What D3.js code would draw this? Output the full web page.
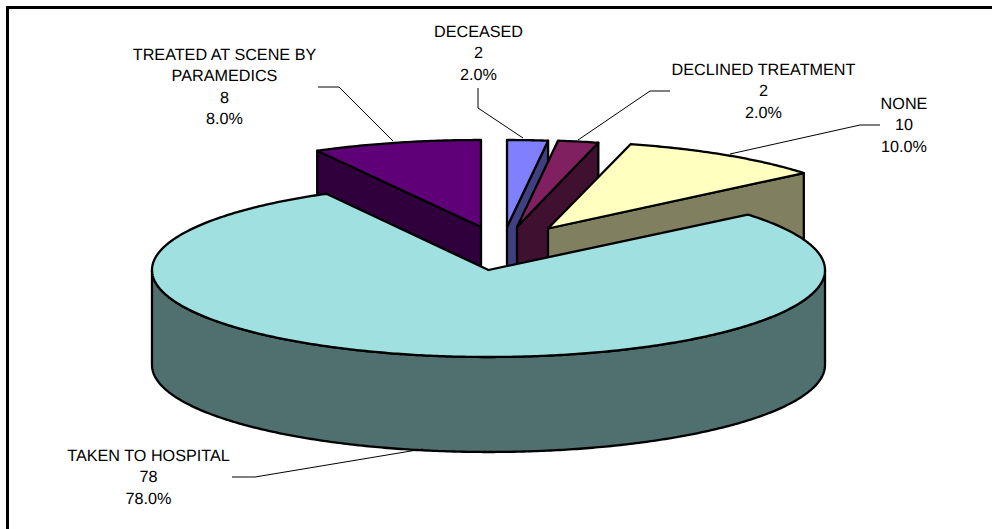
<!DOCTYPE html>
<html>
<head>
<meta charset="utf-8">
<script src="https://cdn.jsdelivr.net/npm/d3@7/dist/d3.min.js"></script>
<style>
html,body{margin:0;padding:0;background:#fff;overflow:hidden}
svg{display:block}
text{font-family:"Liberation Sans",Arial,sans-serif;font-size:16.2px;fill:#000;text-anchor:middle;text-rendering:geometricPrecision}
</style>
</head>
<body>
<svg id="c" width="992" height="529"></svg>
<script>
// data
const categories = ["DECEASED", "DECLINED TREATMENT", "NONE", "TAKEN TO HOSPITAL", "TREATED AT SCENE BY PARAMEDICS"];
const values = [2, 2, 10, 78, 8];
const percents = ["2.0%", "2.0%", "10.0%", "78.0%", "8.0%"];

// layout
const W = 992, H = 529;
const cx = 488.5, cy = 270, ry = 87, depth = 95;
const radiusX = [328, 327, 332, 336.5, 340];
const explodeX = [18.5, 28.5, 59.5, 0, -7.5];
const explodeY = [-43, -43, -41.5, 0, -43];
const topColors = ["#8080ff", "#802060", "#ffffc0", "#a0e0e0", "#600078"];
const wallColors = ["#404080", "#401030", "#808060", "#507070", "#30003c"];
const labelLines = [["DECEASED"], ["DECLINED TREATMENT"], ["NONE"], ["TAKEN TO HOSPITAL"], ["TREATED AT SCENE BY", "PARAMEDICS"]];
const labelX = [478.5, 763.5, 904, 148.5, 224.5];
const labelY = [31, 69, 103, 455, 54];
const leaders = [
  [[478,88],[478,108],[523,138]],
  [[670,91],[650,91],[578,140]],
  [[880,125],[860,125],[730,154]],
  [[232,477],[255,477],[423,449]],
  [[318,87],[339,87],[393,141]]
];
const drawOrder = [4, 0, 1, 2, 3];

const svg = d3.select("#c");
svg.append("rect").attr("width", W).attr("height", H).attr("fill", "#fff");

const sx = d3.scaleLinear().domain([-1, 1]).range([-1, 1]);
const sy = d3.scaleLinear().domain([-1, 1]).range([-ry, ry]);
const pieGen = d3.pie().sort(null).value(d => d);
const arcs = pieGen(values);
const line = d3.line();

function rimPoint(i, a, dy) {
  return [cx + explodeX[i] + radiusX[i] * sx(Math.sin(a)), cy + explodeY[i] + dy + sy(-Math.cos(a))];
}
function arcPoints(i, a0, a1, dy) {
  const n = Math.max(2, Math.ceil((a1 - a0) / 0.01));
  return d3.range(n + 1).map(k => rimPoint(i, a0 + (a1 - a0) * k / n, dy));
}
function face(i, a) {
  const ax = cx + explodeX[i], ay = cy + explodeY[i];
  const p = rimPoint(i, a, 0);
  return [[ax, ay], p, [p[0], p[1] + depth], [ax, ay + depth]];
}
function shape(g, pts, fill) {
  g.append("path").attr("d", line(pts) + "Z").attr("fill", fill)
    .attr("stroke", "#000").attr("stroke-width", 2.3).attr("stroke-linejoin", "round");
}

drawOrder.forEach(i => {
  const d = arcs[i];
  const g = svg.append("g");
  if (Math.sin(d.startAngle) < -1e-6) shape(g, face(i, d.startAngle), wallColors[i]);
  if (Math.sin(d.endAngle) > 1e-6) shape(g, face(i, d.endAngle), wallColors[i]);
  const lo = Math.max(d.startAngle, Math.PI / 2), hi = Math.min(d.endAngle, 3 * Math.PI / 2);
  if (hi > lo) {
    shape(g, arcPoints(i, lo, hi, 0).concat(arcPoints(i, lo, hi, depth).reverse()), wallColors[i]);
  }
  const ax = cx + explodeX[i], ay = cy + explodeY[i];
  shape(g, [[ax, ay]].concat(arcPoints(i, d.startAngle, d.endAngle, 0)), topColors[i]);
});

leaders.forEach(pts => {
  svg.append("path").attr("d", line(pts)).attr("fill", "none").attr("stroke", "#000").attr("stroke-width", 1);
});

categories.forEach((c, i) => {
  const lines = labelLines[i].concat([String(values[i]), percents[i]]);
  lines.forEach((t, k) => {
    svg.append("text").attr("x", labelX[i]).attr("y", labelY[i] + k * 21.5).attr("dy", "0.35em").text(t);
  });
});

// chart frame
svg.append("path").attr("d", line([[7.5, H + 5], [7.5, 7.5], [W + 5, 7.5]]))
  .attr("fill", "none").attr("stroke", "#000").attr("stroke-width", 3);
</script>
</body>
</html>
